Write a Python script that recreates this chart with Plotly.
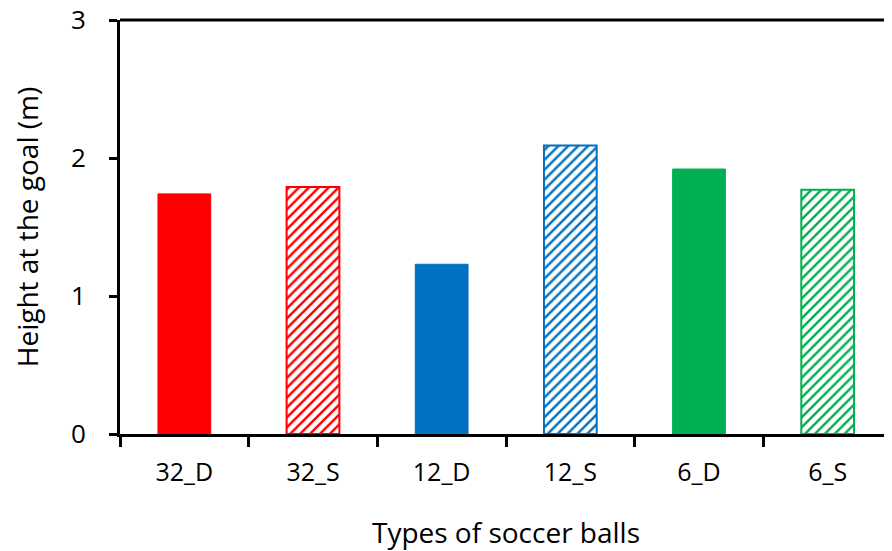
import plotly.graph_objects as go

categories = ["32_D", "32_S", "12_D", "12_S", "6_D", "6_S"]
heights = [1.74, 1.79, 1.23, 2.09, 1.92, 1.77]
colors = ["#FF0000", "#FF0000", "#0070C0", "#0070C0", "#00B050", "#00B050"]
hatched = [False, True, False, True, False, True]

y_ticks = [0, 1, 2, 3]

fig = go.Figure()
for cat, h, c, hat in zip(categories, heights, colors, hatched):
    if hat:
        marker = dict(
            color="white",
            line=dict(color=c, width=2),
            pattern=dict(shape="/", fgcolor=c, bgcolor="white",
                         size=7, solidity=0.35, fillmode="replace"),
        )
    else:
        marker = dict(color=c, line=dict(color=c, width=1))
    fig.add_trace(go.Bar(x=[cat], y=[h], width=0.41, marker=marker,
                         showlegend=False))

font_family = "Open Sans, Lato, sans-serif"

# page body has an 8px default margin, so the figure is 8px smaller
fig.update_layout(
    width=884,
    height=543,
    margin=dict(l=112, r=0, t=12, b=117),
    paper_bgcolor="white",
    plot_bgcolor="white",
    font=dict(family=font_family, color="black", size=22),
    barmode="overlay",
)
fig.add_shape(type="line", xref="paper", yref="paper", x0=0, x1=1, y0=1, y1=1,
              line=dict(color="black", width=3), layer="above")
fig.update_xaxes(
    categoryorder="array",
    categoryarray=categories,
    automargin=False,
    showline=True,
    linecolor="black",
    linewidth=3,
    ticks="outside",
    tickson="boundaries",
    ticklen=10,
    tickwidth=3,
    tickcolor="black",
    showgrid=False,
    tickfont=dict(size=25),
    ticklabelstandoff=14,
    title=dict(text="Types of soccer balls", font=dict(size=28), standoff=42),
)
fig.update_yaxes(
    range=[0, 3],
    tickvals=y_ticks,
    automargin=False,
    showline=True,
    linecolor="black",
    linewidth=3,
    ticks="outside",
    ticklen=8,
    tickwidth=3,
    tickcolor="black",
    showgrid=False,
    zeroline=False,
    tickfont=dict(size=26),
    ticklabelstandoff=18,
    ticklabeloverflow="allow",
    title=dict(text="Height at the goal (m)", font=dict(size=28), standoff=26),
)

fig.write_html("out.html")
